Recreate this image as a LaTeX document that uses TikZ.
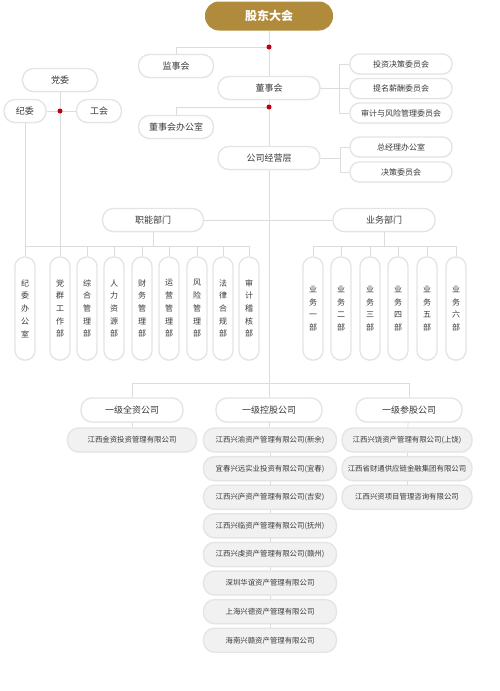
\documentclass[tikz,border=0pt]{standalone}
\usepackage{fontspec}
\setmainfont{Noto Sans CJK SC}
\usetikzlibrary{shadows}
\definecolor{gold}{HTML}{B08B3C}
\definecolor{linegray}{HTML}{DCDCDC}
\definecolor{rimgray}{HTML}{E4E4E4}
\definecolor{fillgray}{HTML}{F1F1F1}
\definecolor{dotred}{HTML}{C0000F}
\definecolor{txtgray}{HTML}{3A3A3A}
\tikzstyle{topbox}=[rounded corners=14pt,fill=gold,text=white,minimum width=128pt,minimum height=29pt,font=\fontsize{12}{14}\selectfont\bfseries]
\tikzstyle{unit}=[rounded corners=11pt,draw=rimgray,line width=1.3pt,fill=white,text=txtgray,minimum height=23pt,inner sep=0pt,font=\fontsize{9}{11}\selectfont,drop shadow={opacity=0.06,shadow xshift=0pt,shadow yshift=-1pt}]
\tikzstyle{committee}=[unit,minimum height=20pt,rounded corners=9.5pt,font=\fontsize{8}{10}\selectfont]
\tikzstyle{column}=[unit,minimum width=20pt,minimum height=103pt,rounded corners=9.5pt,align=center,font=\fontsize{8}{12.7}\selectfont]
\tikzstyle{company}=[unit,fill=fillgray,minimum height=24pt,font=\fontsize{7.4}{9}\selectfont]
\tikzstyle{link}=[draw=linegray,line width=0.8pt]
\tikzstyle{dot}=[fill=dotred]

\begin{document}
\begin{tikzpicture}[x=1pt,y=-1pt]
    \fill[white] (0,0) rectangle (500,691);
    \useasboundingbox (0,0) rectangle (500,691);
    % First the governing bodies
    \node[topbox] (gdh) at (269,16) {股东大会};
    \foreach \pos/\name/\w/\txt in {{(176,66)/jsh/75pt/监事会}, {(269,88)/dsh/102pt/董事会},
                                    {(176,127)/dshb/75pt/董事会办公室}, {(269,158)/jyc/102pt/公司经营层},
                                    {(153,220)/znbm/101pt/职能部门}, {(384,220)/ywbm/102pt/业务部门},
                                    {(60,80)/dw/75pt/党委}, {(25,111)/jw/42pt/纪委}, {(99,111)/gh/45pt/工会}}
        \node[unit, minimum width=\w] (\name) at \pos {\txt};
    \foreach \y/\name/\txt in {64/tz/投资决策委员会, 88.5/tm/提名薪酬委员会, 113/sj/审计与风险管理委员会,
                               147/zjl/总经理办公室, 172/jc/决策委员会}
        \node[committee, minimum width=102pt] (\name) at (401,\y) {\txt};

    % Departments, written top to bottom
    \foreach \x/\name/\txt in {25/c1/{纪\\委\\办\\公\\室}, 60/c2/{党\\群\\工\\作\\部}, 87/c3/{综\\合\\管\\理\\部},
                               114/c4/{人\\力\\资\\源\\部}, 142/c5/{财\\务\\管\\理\\部}, 169/c6/{运\\营\\管\\理\\部},
                               197/c7/{风\\险\\管\\理\\部}, 223/c8/{法\\律\\合\\规\\部}, 249/c9/{审\\计\\稽\\核\\部}}
        \node[column] (\name) at (\x,308.5) {\txt};
    \foreach \x/\name/\txt in {313/b1/{业\\务\\一\\部}, 341/b2/{业\\务\\二\\部}, 370/b3/{业\\务\\三\\部},
                               398/b4/{业\\务\\四\\部}, 427/b5/{业\\务\\五\\部}, 456/b6/{业\\务\\六\\部}}
        \node[column] (\name) at (\x,308.5) {\txt};

    % Companies
    \foreach \pos/\name/\w/\txt in {{(132,410)/qz/102pt/一级全资公司}, {(269,410)/kg/106pt/一级控股公司},
                                    {(409,410)/cg/106pt/一级参股公司}}
        \node[unit, minimum width=\w, minimum height=24pt] (\name) at \pos {\txt};
    \node[company, minimum width=129pt] (q1) at (132,440) {江西金资投资管理有限公司};
    \foreach \i/\txt in {1/江西兴渝资产管理有限公司(新余), 2/宜春兴远实业投资有限公司(宜春),
                         3/江西兴庐资产管理有限公司(吉安), 4/江西兴临资产管理有限公司(抚州),
                         5/江西兴虔资产管理有限公司(赣州), 6/深圳华谊资产管理有限公司,
                         7/上海兴德资产管理有限公司, 8/海南兴赣资产管理有限公司}
        \node[company, minimum width=133pt] (k\i) at (270,{440+(\i-1)*28.6}) {\txt};
    \foreach \i/\txt in {1/江西兴饶资产管理有限公司(上饶), 2/江西省财通供应链金融集团有限公司,
                         3/江西兴资项目管理咨询有限公司}
        \node[company, minimum width=130pt] (p\i) at (407,{440+(\i-1)*28.6}) {\txt};

    % Connect everything
    \coordinate (d1) at (269,47);
    \coordinate (d2) at (269,107);
    \coordinate (d3) at (60,111);
    \coordinate (sp) at (269,383);
    \coordinate (cb) at (339,88.5);
    \coordinate (cj) at (340,158);
    \coordinate (fl) at (153,246);
    \coordinate (bl) at (384,246);
    \foreach \source/\dest in {gdh/dsh, dsh/jyc, jyc/sp, dsh/cb, jyc/cj, znbm/ywbm, znbm/fl, ywbm/bl,
                               jw/gh, dw/c2, jw/c1, sp/kg, qz/q1, kg/k1, k1/k2, k2/k3, k3/k4, k4/k5,
                               k5/k6, k6/k7, k7/k8, cg/p1, p1/p2, p2/p3}
        \path[link] (\source) -- (\dest);
    \foreach \source/\dest in {d1/jsh, d2/dshb, sp/qz, sp/cg}
        \path[link] (\source) -| (\dest);
    \foreach \dest in {tz,tm,sj}
        \path[link] (cb) |- (\dest);
    \foreach \dest in {zjl,jc}
        \path[link] (cj) |- (\dest);
    \foreach \i in {1,...,9}
        \path[link] (fl) -| (c\i);
    \foreach \i in {1,...,6}
        \path[link] (bl) -| (b\i);
    \foreach \d in {d1,d2,d3}
        \fill[dot] (\d) circle (2.5);
\end{tikzpicture}
\end{document}
